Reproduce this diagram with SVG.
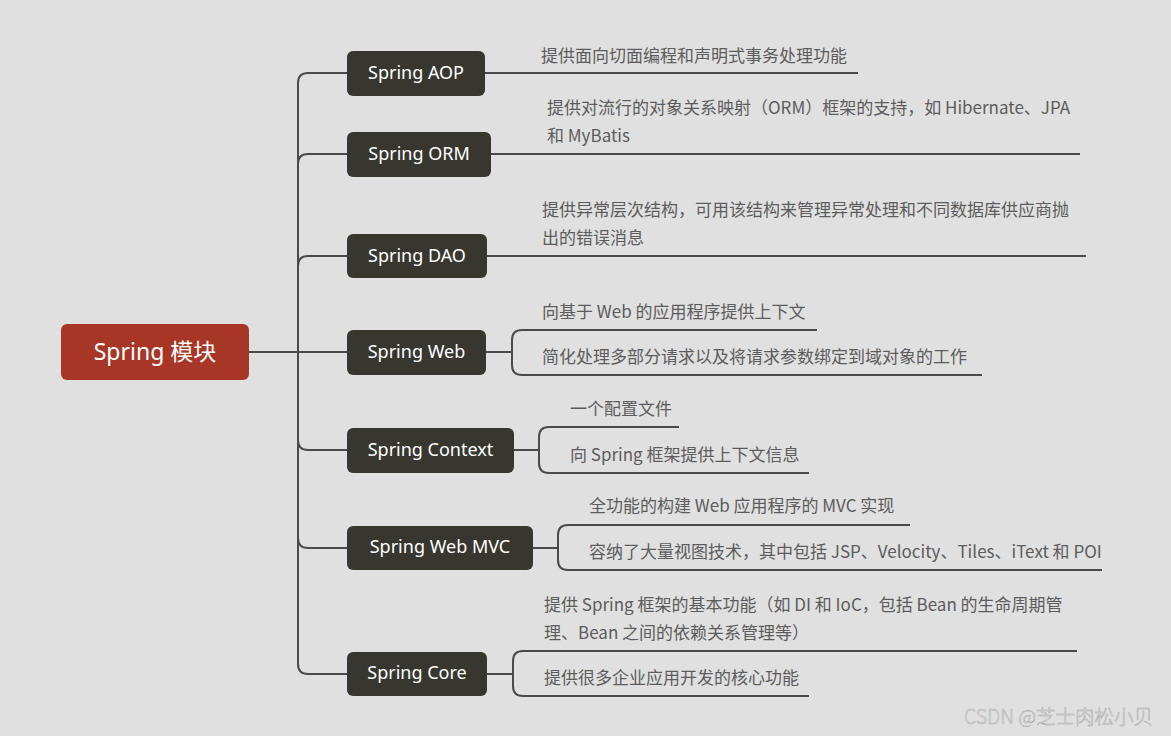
<svg xmlns="http://www.w3.org/2000/svg" width="1171" height="736" viewBox="0 0 1171 736">
<style>
.bg{fill:#e0e0e0}
.root{fill:#a83626}
.node{fill:#37372f}
.nt{fill:#ffffff;font-family:"Noto Sans","Noto Sans CJK SC",sans-serif;font-size:18px;text-anchor:middle;dominant-baseline:central}
.rt{fill:#ffffff;font-family:"Noto Sans","Noto Sans CJK SC",sans-serif;font-size:23px;text-anchor:middle;dominant-baseline:central}
.ct{fill:#5c5c5c;font-family:"Noto Sans CJK SC",sans-serif;font-size:17px;dominant-baseline:central}
.ln{fill:none;stroke:#4a4a4a;stroke-width:2}
.wm{fill:#eaeaea;stroke:#a8a8a8;stroke-width:0.5;font-family:"Noto Sans CJK SC",sans-serif;font-size:19.5px;font-weight:300}
</style>
<rect class="bg" x="0" y="0" width="1171" height="736"/>
<g id="connectors">
  <path class="ln" d="M248,352 L347,352"/>
  <path class="ln" d="M298,352 L298,83 Q298,73 308,73 L347,73"/>
  <path class="ln" d="M298,352 L298,164 Q298,154 308,154 L347,154"/>
  <path class="ln" d="M298,352 L298,266 Q298,256 308,256 L347,256"/>
  <path class="ln" d="M298,352 L298,440 Q298,450 308,450 L347,450"/>
  <path class="ln" d="M298,352 L298,538 Q298,548 308,548 L347,548"/>
  <path class="ln" d="M298,352 L298,664 Q298,674 308,674 L347,674"/>
  <path class="ln" d="M485,73 L858,73"/>
  <path class="ln" d="M491,154 L1080,154"/>
  <path class="ln" d="M487,256 L1086,256"/>
  <path class="ln" d="M486,352 L512,352"/>
  <path class="ln" d="M817,330 L522,330 Q512,330 512,340 L512,365 Q512,375 522,375 L982,375"/>
  <path class="ln" d="M514,450 L539,450"/>
  <path class="ln" d="M679,427 L549,427 Q539,427 539,437 L539,463 Q539,473 549,473 L809,473"/>
  <path class="ln" d="M533,548 L558,548"/>
  <path class="ln" d="M910,525 L568,525 Q558,525 558,535 L558,560 Q558,570 568,570 L1102,570"/>
  <path class="ln" d="M487,674 L513,674"/>
  <path class="ln" d="M1077,651 L523,651 Q513,651 513,661 L513,686 Q513,696 523,696 L809,696"/>
</g>
<g id="root">
  <rect class="root" x="61" y="324" width="188" height="56" rx="6"/>
  <text class="rt" x="155" y="351">Spring 模块</text>
</g>
<g id="n-aop">
  <rect class="node" x="347" y="51" width="138" height="45" rx="6"/>
  <text class="nt" x="416" y="72">Spring AOP</text>
</g>
<g id="n-orm">
  <rect class="node" x="347" y="132" width="144" height="45" rx="6"/>
  <text class="nt" x="419" y="153">Spring ORM</text>
</g>
<g id="n-dao">
  <rect class="node" x="347" y="234" width="140" height="44" rx="6"/>
  <text class="nt" x="417" y="255">Spring DAO</text>
</g>
<g id="n-web">
  <rect class="node" x="347" y="330" width="139" height="45" rx="6"/>
  <text class="nt" x="416.5" y="351">Spring Web</text>
</g>
<g id="n-context">
  <rect class="node" x="347" y="428" width="167" height="45" rx="6"/>
  <text class="nt" x="430.5" y="449">Spring Context</text>
</g>
<g id="n-mvc">
  <rect class="node" x="347" y="526" width="186" height="44" rx="6"/>
  <text class="nt" x="440" y="546">Spring Web MVC</text>
</g>
<g id="n-core">
  <rect class="node" x="347" y="652" width="140" height="44" rx="6"/>
  <text class="nt" x="417" y="672">Spring Core</text>
</g>
<g id="t-aop">
  <text class="ct" x="541" y="54">提供面向切面编程和声明式事务处理功能</text>
</g>
<g id="t-orm">
  <text class="ct" x="547" y="106">提供对流行的对象关系映射（ORM）框架的支持，如 Hibernate、JPA</text>
  <text class="ct" x="547" y="134">和 MyBatis</text>
</g>
<g id="t-dao">
  <text class="ct" x="542" y="208">提供异常层次结构，可用该结构来管理异常处理和不同数据库供应商抛</text>
  <text class="ct" x="542" y="236">出的错误消息</text>
</g>
<g id="t-web1"><text class="ct" x="542" y="310">向基于 Web 的应用程序提供上下文</text></g>
<g id="t-web2"><text class="ct" x="542" y="355">简化处理多部分请求以及将请求参数绑定到域对象的工作</text></g>
<g id="t-ctx1"><text class="ct" x="570" y="407">一个配置文件</text></g>
<g id="t-ctx2"><text class="ct" x="570" y="453">向 Spring 框架提供上下文信息</text></g>
<g id="t-mvc1"><text class="ct" x="589" y="504">全功能的构建 Web 应用程序的 MVC 实现</text></g>
<g id="t-mvc2"><text class="ct" x="589" y="550">容纳了大量视图技术，其中包括 JSP、Velocity、Tiles、iText 和 POI</text></g>
<g id="t-core1">
  <text class="ct" x="544" y="603">提供 Spring 框架的基本功能（如 DI 和 IoC，包括 Bean 的生命周期管</text>
  <text class="ct" x="544" y="631">理、Bean 之间的依赖关系管理等）</text>
</g>
<g id="t-core2"><text class="ct" x="544" y="676">提供很多企业应用开发的核心功能</text></g>
<text class="wm" x="964" y="724">CSDN @芝士肉松小贝</text>
</svg>
